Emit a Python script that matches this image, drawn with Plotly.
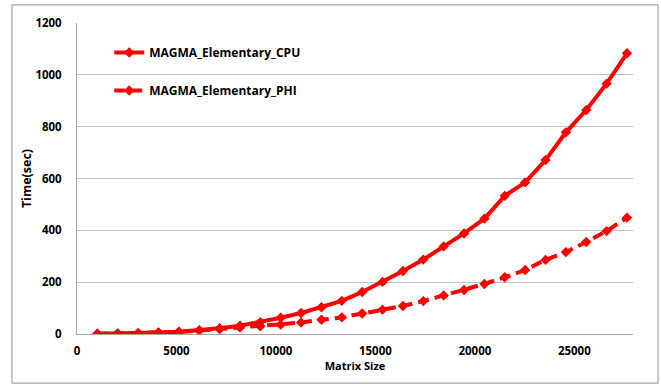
import plotly.graph_objects as go

# Matrix sizes (multiples of 1024) and timings in seconds
matrix_size = [1024 * k for k in range(1, 28)]
cpu_time = [1, 2, 3, 6, 9, 15, 22, 32, 46, 63, 81, 103, 128, 162, 201, 243,
            287, 338, 388, 445, 533, 585, 671, 778, 864, 966, 1083]
phi_time = [1, 2, 3, 5, 8, 13, 19, 25, 30, 36, 44, 55, 64, 79, 94, 108,
            127, 149, 170, 193, 219, 247, 286, 316, 355, 397, 449]

x_ticks = [0, 5000, 10000, 15000, 20000, 25000]
x_tick_labels = ["0", "5000", "10000", "15000", "20000", "25000"]
y_ticks = [0, 200, 400, 600, 800, 1000, 1200]
y_tick_labels = ["0", "200", "400", "600", "800", "1000", "1200"]

RED = "#FF0000"
FONT = "Open Sans"

fig = go.Figure()
fig.add_trace(go.Scatter(
    x=matrix_size, y=cpu_time, name="MAGMA_Elementary_CPU",
    mode="lines+markers", legendgroup="cpu",
    line=dict(color=RED, width=4),
    marker=dict(symbol="diamond", size=8, color=RED),
))
fig.add_trace(go.Scatter(
    x=matrix_size, y=phi_time, name="MAGMA_Elementary_PHI",
    mode="lines+markers", legendgroup="phi",
    line=dict(color=RED, width=4, dash="11px,6px"),
    marker=dict(symbol="diamond", size=8, color=RED),
))

# Chart frame around the whole figure
fig.add_shape(type="rect", xref="paper", yref="paper",
              x0=-0.117, x1=1.045, y0=-0.158, y1=1.058,
              line=dict(color="#A6A6A6", width=1.2), fillcolor="rgba(0,0,0,0)",
              layer="below")

tick_font = dict(family=FONT, size=11.5, color="black", weight=700)

fig.update_layout(
    width=661, height=385,
    margin=dict(l=77, r=28, t=23, b=51),
    paper_bgcolor="white", plot_bgcolor="white",
    font=dict(family=FONT, color="black", size=12),
    showlegend=True,
    legend=dict(
        x=0.058, y=0.952, xanchor="left", yanchor="top",
        bgcolor="rgba(0,0,0,0)",
        font=dict(family=FONT, size=12, color="black", weight=700),
        traceorder="grouped", tracegroupgap=19, itemwidth=30,
    ),
    xaxis=dict(
        range=[0, 27950], tickvals=x_ticks, ticktext=x_tick_labels,
        showgrid=False, zeroline=False,
        showline=True, linecolor="#A6A6A6", linewidth=1,
        ticks="", ticklabelstandoff=6,
        tickfont=tick_font,
        title=dict(text="Matrix Size", standoff=5,
                   font=dict(family=FONT, size=11, color="black", weight=700)),
    ),
    yaxis=dict(
        range=[0, 1200], tickvals=y_ticks, ticktext=y_tick_labels,
        showgrid=True, gridcolor="#BFBFBF", gridwidth=1,
        zeroline=False,
        showline=True, linecolor="#A6A6A6", linewidth=1,
        ticks="", ticklabelstandoff=12,
        tickfont=tick_font,
        title=dict(text="Time(sec)", standoff=1,
                   font=dict(family=FONT, size=12.5, color="black", weight=700)),
    ),
)

fig.write_html("out.html")
